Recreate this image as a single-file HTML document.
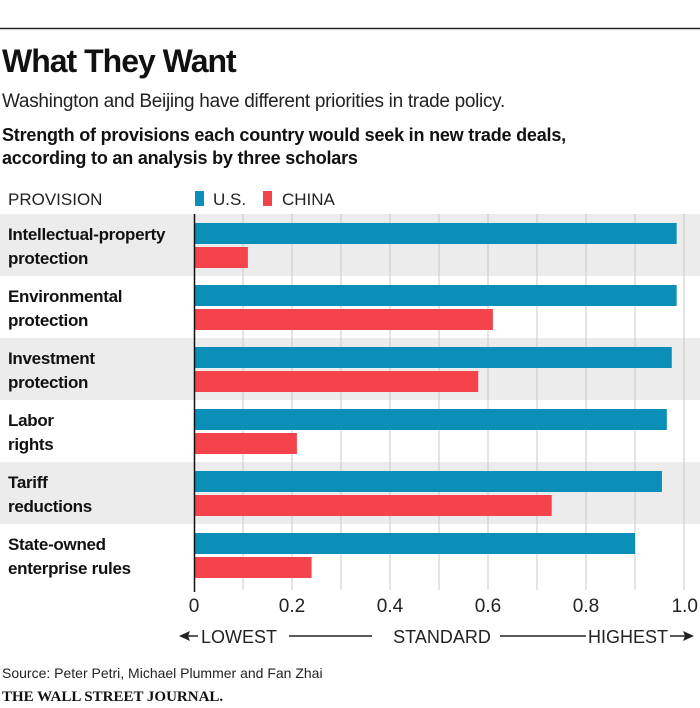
<!DOCTYPE html>
<html><head><meta charset="utf-8"><style>
body{margin:0;background:#fff;}
svg{display:block;font-family:"Liberation Sans",sans-serif;}
</style></head><body>
<svg width="700" height="708" viewBox="0 0 700 708">
<line x1="0" y1="28.5" x2="700" y2="28.5" stroke="#222" stroke-width="1.5"/>
<text x="2" y="72" font-size="32" font-weight="bold" fill="#111" letter-spacing="-1">What They Want</text>
<text x="2" y="107" font-size="19" fill="#222" letter-spacing="-0.3">Washington and Beijing have different priorities in trade policy.</text>
<text x="2" y="141" font-size="18" font-weight="bold" fill="#111" letter-spacing="-0.2">Strength of provisions each country would seek in new trade deals,</text>
<text x="2" y="164" font-size="18" font-weight="bold" fill="#111" letter-spacing="-0.2">according to an analysis by three scholars</text>
<text x="8" y="205" font-size="17" fill="#222">PROVISION</text>
<rect x="195" y="191" width="9" height="15" fill="#0b8fb8"/>
<text x="213" y="205" font-size="17" fill="#222">U.S.</text>
<rect x="263" y="191" width="9" height="15" fill="#f4434b"/>
<text x="282" y="205" font-size="17" fill="#222">CHINA</text>
<g id="plot"></g>
<text x="2" y="678" font-size="14" fill="#222">Source: Peter Petri, Michael Plummer and Fan Zhai</text>
<text x="2" y="701" font-size="15" font-family="Liberation Serif,serif" font-weight="bold" fill="#111">THE WALL STREET JOURNAL.</text>
</svg>
<script>
const categories=[["Intellectual-property","protection"],["Environmental","protection"],["Investment","protection"],["Labor","rights"],["Tariff","reductions"],["State-owned","enterprise rules"]];
const usValues=[0.985,0.985,0.975,0.965,0.955,0.90];
const chinaValues=[0.11,0.61,0.58,0.21,0.73,0.24];
const tickValues=[0,0.2,0.4,0.6,0.8,1.0];
const tickLabels=["0","0.2","0.4","0.6","0.8","1.0"];
const NS="http://www.w3.org/2000/svg";
const g=document.getElementById('plot');
const x0=194,x1=684,top0=214,rowH=62;
const xs=v=>x0+(x1-x0)*v;
function mk(t,a){const e=document.createElementNS(NS,t);for(const k in a)e.setAttribute(k,a[k]);g.appendChild(e);return e;}
const bottom=top0+rowH*categories.length;
categories.forEach((c,i)=>{
  if(i%2===0){const r=mk('rect',{x:0,y:top0+i*rowH,width:700,height:rowH,fill:'#ececec'});
  
  }
});
for(let k=1;k<=10;k++){const l=mk('line',{x1:xs(k/10),x2:xs(k/10),y1:top0,y2:bottom+4,stroke:'#c8c8c8','stroke-width':1});

}
categories.forEach((c,i)=>{
  const y=top0+i*rowH;
  const b1=mk('rect',{x:x0,y:y+9,width:xs(usValues[i])-x0,height:21,fill:'#0b8fb8'});
  
  
  const b2=mk('rect',{x:x0,y:y+33,width:xs(chinaValues[i])-x0,height:21,fill:'#f4434b'});
  
  
  c.forEach((s,j)=>{const t=mk('text',{x:8,y:y+26+j*24,'font-size':17,'font-weight':'bold',fill:'#111','letter-spacing':'-0.3'});t.textContent=s;
  
  });
});
const ax=mk('line',{x1:x0+0.5,x2:x0+0.5,y1:top0,y2:bottom+6,stroke:'#111','stroke-width':1.5});


tickValues.forEach((v,i)=>{const t=mk('text',{x:xs(v),y:612,'font-size':19,fill:'#222','text-anchor':'middle'});
if(i===5){t.setAttribute('x',xs(v)+14);t.setAttribute('text-anchor','end');}
t.textContent=tickLabels[i];

});
const sc=[['LOWEST',201,'start'],['STANDARD',442,'middle'],['HIGHEST',668,'end']];
sc.forEach(s=>{const t=mk('text',{x:s[1],y:643,'font-size':18,fill:'#222','text-anchor':s[2]});t.textContent=s[0];

});
[[289,372],[500,586],[184,198],[670,688]].forEach(p=>{const l=mk('line',{x1:p[0],x2:p[1],y1:636,y2:636,stroke:'#222','stroke-width':1.5});

});
const a1=mk('polygon',{points:'179,636 190,631 188,636 190,641',fill:'#222'});


const a2=mk('polygon',{points:'694,636 683,631 685,636 683,641',fill:'#222'});


</script>
</body></html>
